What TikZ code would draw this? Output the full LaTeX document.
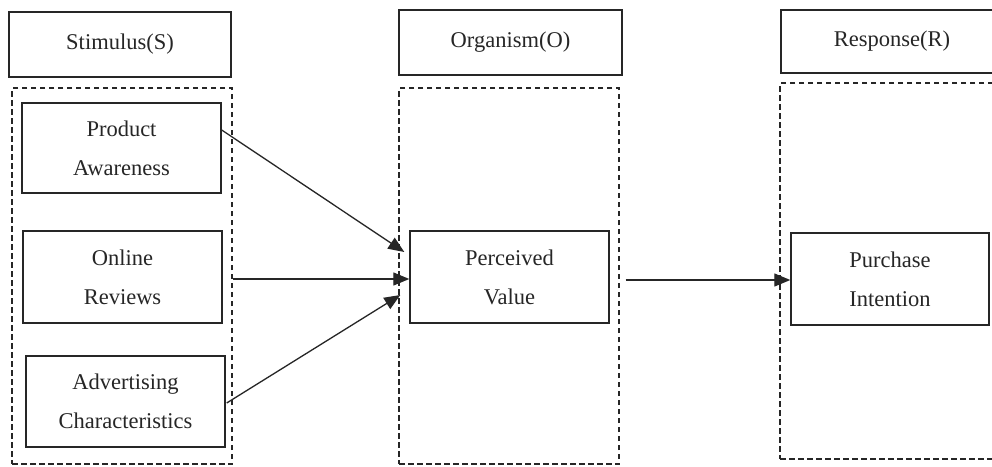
\documentclass[tikz,border=0pt]{standalone}
\usepackage{fontspec}
\setmainfont{Liberation Serif}
\usetikzlibrary{arrows.meta,calc}
\begin{document}
\begin{tikzpicture}[x=1pt,y=-1pt,
  box/.style={draw=black!85,line width=1.4pt,rectangle,inner sep=0pt,align=center,
     text=black!85,font=\fontsize{22.5}{39}\selectfont},
  grp/.style={draw=black!85,line width=1.3pt,dash pattern=on 5.5pt off 3.5pt,rectangle,inner sep=0pt},
  arr/.style={draw=black!85,line width=1.3pt,-{Triangle[length=16pt,width=13pt]}}]
\clip (0,0) rectangle (992,466);
\fill[white] (0,0) rectangle (992,466);
% header boxes
\node[box,minimum width=222pt,minimum height=65pt] (stimH) at (120,44.5) {Stimulus(S)};
\node[box,minimum width=223pt,minimum height=65pt] (orgH) at (510.5,42.5) {Organism(O)};
\node[box,minimum width=222pt,minimum height=63pt] (resH) at (892,41.5) {Response(R)};
% dashed groups
\node[grp,minimum width=220pt,minimum height=376pt] (gS) at (122,276) {};
\node[grp,minimum width=220pt,minimum height=376pt] (gO) at (509,276) {};
\node[grp,minimum width=220pt,minimum height=376pt] (gR) at (890,271) {};
% construct boxes
\node[box,minimum width=199pt,minimum height=90pt] (prod) at (121.5,148) {Product\\Awareness};
\node[box,minimum width=199pt,minimum height=92pt] (onl) at (122.5,277) {Online\\Reviews};
\node[box,minimum width=199pt,minimum height=91pt] (adv) at (125.5,401.5) {Advertising\\Characteristics};
\node[box,minimum width=199pt,minimum height=92pt] (perc) at (509.5,277) {Perceived\\Value};
\node[box,minimum width=198pt,minimum height=92pt] (purch) at (890,279) {Purchase\\Intention};
% arrow end points
\coordinate (p1) at (prod.east |- 0,130);
\coordinate (t1) at ($(perc.west)+(-5,-25)$);
\coordinate (p2) at (gS.east |- 0,279);
\coordinate (t2) at (perc.west |- 0,279);
\coordinate (p3) at ($(adv.east |- 0,403)+(1,0)$);
\coordinate (t3) at ($(perc.west)+(-9,18)$);
\coordinate (p4) at ($(gO.east |- 0,280)+(6,0)$);
\coordinate (t4) at (purch.west |- 0,280);
\draw[arr] (p1) -- (t1);
\draw[arr] (p2) -- (t2);
\draw[arr] (p3) -- (t3);
\draw[arr] (p4) -- (t4);
\end{tikzpicture}
\end{document}
